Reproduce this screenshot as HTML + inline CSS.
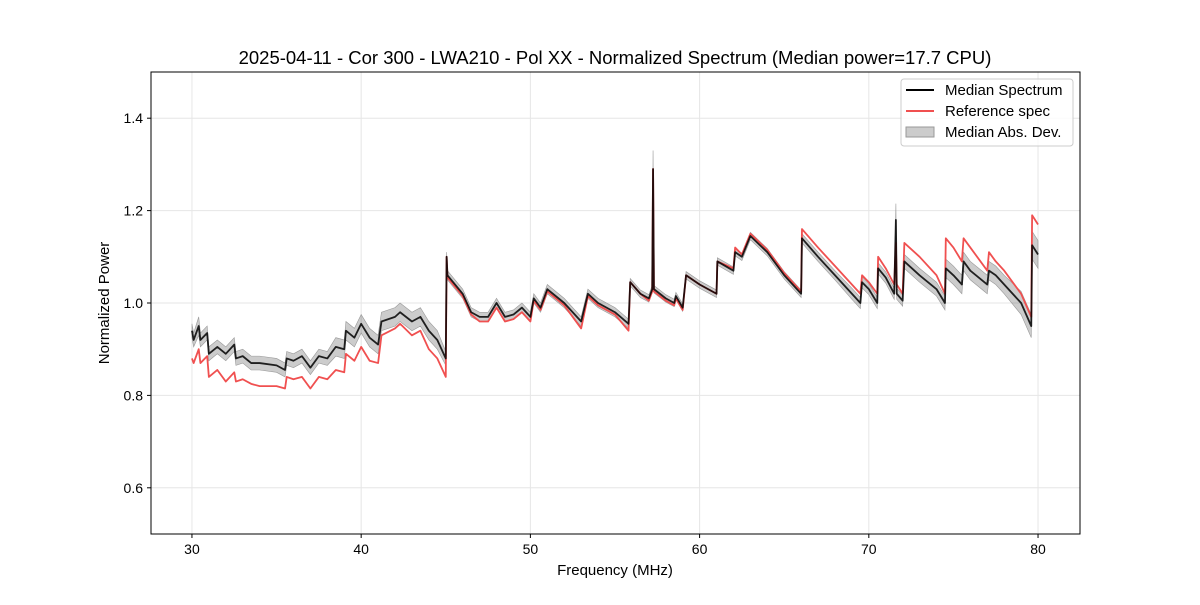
<!DOCTYPE html>
<html><head><meta charset="utf-8"><style>
body{margin:0;background:#fff;font-family:"Liberation Sans",sans-serif}
</style></head><body>
<svg id="chart" width="1200" height="600" xmlns="http://www.w3.org/2000/svg" font-family="Liberation Sans, sans-serif">
<rect width="1200" height="600" fill="#fff"/>
<text x="615" y="64" text-anchor="middle" font-size="18.5">2025-04-11 - Cor 300 - LWA210 - Pol XX - Normalized Spectrum (Median power=17.7 CPU)</text>
<g id="grid"></g><g id="marks"></g><g id="axes"></g>
<rect x="151" y="72" width="929" height="462" fill="none" stroke="#000" stroke-width="1"/>
<text x="615" y="575" text-anchor="middle" font-size="15">Frequency (MHz)</text>
<text transform="translate(109,303) rotate(-90)" text-anchor="middle" font-size="15">Normalized Power</text>
<g>
<rect x="901" y="79" width="172" height="67" rx="3" fill="#fff" fill-opacity="0.8" stroke="#ccc"/>
<line x1="906" y1="90" x2="934" y2="90" stroke="#000" stroke-width="2"/>
<text x="945" y="95" font-size="15">Median Spectrum</text>
<line x1="906" y1="111" x2="934" y2="111" stroke="#f05050" stroke-width="2"/>
<text x="945" y="116" font-size="15">Reference spec</text>
<rect x="906" y="127" width="28" height="10" fill="#000" fill-opacity="0.2" stroke="#999"/>
<text x="945" y="137" font-size="15">Median Abs. Dev.</text>
</g>
</svg>
<script>
const freqs=[30.0,30.1,30.4,30.5,30.9,31.0,31.5,32.0,32.5,32.6,33.0,33.5,34.0,35.0,35.5,35.6,36.0,36.5,37.0,37.5,38.0,38.5,39.0,39.1,39.6,40.0,40.5,41.0,41.2,42.0,42.3,43.0,43.5,44.0,44.5,45.0,45.05,45.1,46.0,46.5,47.0,47.5,48.0,48.5,49.0,49.5,50.0,50.2,50.6,51.0,52.0,53.0,53.4,54.0,55.0,55.8,55.9,56.5,57.0,57.2,57.25,57.3,58.0,58.5,58.6,59.0,59.2,60.0,60.5,61.0,61.05,62.0,62.1,62.5,63.0,64.0,65.0,66.0,66.05,67.0,68.0,69.0,69.5,69.6,70.0,70.5,70.55,71.0,71.5,71.6,71.65,72.0,72.1,73.0,74.0,74.5,74.55,75.0,75.5,75.6,76.0,77.0,77.1,77.5,78.0,79.0,79.6,79.65,80.0];
const median=[0.94,0.92,0.95,0.92,0.935,0.89,0.905,0.89,0.91,0.88,0.885,0.87,0.87,0.865,0.855,0.88,0.875,0.885,0.86,0.885,0.88,0.905,0.90,0.94,0.925,0.955,0.925,0.91,0.96,0.97,0.98,0.96,0.97,0.94,0.92,0.88,1.10,1.06,1.02,0.98,0.97,0.97,1.00,0.97,0.975,0.99,0.97,1.01,0.99,1.03,1.00,0.96,1.02,1.00,0.98,0.955,1.045,1.02,1.01,1.03,1.29,1.03,1.01,1.00,1.015,0.99,1.06,1.04,1.03,1.02,1.09,1.07,1.11,1.10,1.145,1.11,1.06,1.02,1.14,1.10,1.06,1.02,1.00,1.045,1.03,1.00,1.075,1.055,1.02,1.18,1.02,1.005,1.09,1.06,1.03,1.00,1.075,1.06,1.04,1.09,1.07,1.04,1.07,1.06,1.04,1.00,0.95,1.125,1.105];
const reference=[0.88,0.87,0.90,0.87,0.885,0.84,0.855,0.83,0.85,0.83,0.835,0.825,0.82,0.82,0.815,0.84,0.835,0.84,0.815,0.84,0.835,0.855,0.85,0.89,0.875,0.905,0.875,0.87,0.93,0.945,0.955,0.93,0.94,0.90,0.88,0.84,1.10,1.055,1.015,0.975,0.96,0.96,0.99,0.96,0.965,0.98,0.96,1.005,0.985,1.025,0.995,0.945,1.015,0.995,0.975,0.94,1.045,1.02,1.005,1.025,1.29,1.025,1.005,0.995,1.01,0.985,1.06,1.04,1.03,1.02,1.09,1.075,1.12,1.105,1.15,1.115,1.065,1.025,1.16,1.12,1.08,1.04,1.02,1.06,1.045,1.02,1.10,1.075,1.04,1.13,1.04,1.02,1.13,1.10,1.06,1.02,1.14,1.12,1.09,1.14,1.12,1.07,1.11,1.09,1.07,1.02,0.97,1.19,1.17];
const mad=[0.015,0.015,0.02,0.015,0.015,0.015,0.015,0.015,0.015,0.015,0.015,0.015,0.015,0.015,0.015,0.015,0.015,0.015,0.015,0.015,0.015,0.02,0.02,0.02,0.02,0.02,0.02,0.02,0.02,0.02,0.02,0.02,0.02,0.02,0.02,0.015,0.01,0.01,0.01,0.01,0.01,0.01,0.01,0.01,0.01,0.01,0.01,0.01,0.01,0.01,0.01,0.01,0.01,0.01,0.01,0.01,0.008,0.008,0.008,0.008,0.04,0.008,0.008,0.008,0.008,0.008,0.008,0.008,0.008,0.008,0.008,0.008,0.008,0.008,0.008,0.008,0.008,0.008,0.01,0.01,0.01,0.012,0.012,0.012,0.012,0.012,0.012,0.012,0.012,0.035,0.012,0.012,0.015,0.015,0.015,0.015,0.02,0.02,0.02,0.02,0.02,0.02,0.02,0.02,0.02,0.025,0.025,0.03,0.03];
const xTicks=[30,40,50,60,70,80];
const yTicks=[0.6,0.8,1.0,1.2,1.4];

const NS='http://www.w3.org/2000/svg';
const X0=151,X1=1080,Y0=534,Y1=72,XMIN=27.58,XMAX=82.48,YMIN=0.5,YMAX=1.5;
function xs(v){return X0+(v-XMIN)/(XMAX-XMIN)*(X1-X0);}
function ys(v){return Y0-(v-YMIN)/(YMAX-YMIN)*(Y0-Y1);}
function mk(tag,attrs,parent){const e=document.createElementNS(NS,tag);for(const k in attrs)e.setAttribute(k,attrs[k]);parent.appendChild(e);return e;}
const grid=document.getElementById('grid'),marks=document.getElementById('marks'),axes=document.getElementById('axes');
xTicks.forEach(t=>{
  const g=mk('line',{x1:xs(t),x2:xs(t),y1:Y1,y2:Y0,stroke:'#e6e6e6'},grid);
  
  
  const tk=mk('line',{x1:xs(t),x2:xs(t),y1:Y0,y2:Y0+4,stroke:'#000'},axes);
  
  
  const tx=mk('text',{x:xs(t),y:Y0+20,'text-anchor':'middle','font-size':14},axes);
  tx.textContent=t;
  
  
});
yTicks.forEach(t=>{
  const g=mk('line',{x1:X0,x2:X1,y1:ys(t),y2:ys(t),stroke:'#e6e6e6'},grid);
  
  
  const tk=mk('line',{x1:X0-4,x2:X0,y1:ys(t),y2:ys(t),stroke:'#000'},axes);
  
  
  const tx=mk('text',{x:X0-8,y:ys(t)+5,'text-anchor':'end','font-size':14},axes);
  tx.textContent=t.toFixed(1);
  
  
});
let up=freqs.map((f,i)=>xs(f)+','+ys(median[i]+mad[i]));
let dn=freqs.map((f,i)=>xs(f)+','+ys(median[i]-mad[i])).reverse();
const band=mk('polygon',{points:up.concat(dn).join(' '),fill:'#000','fill-opacity':0.2,stroke:'#999','stroke-width':0.6},marks);


const refL=mk('polyline',{points:freqs.map((f,i)=>xs(f)+','+ys(reference[i])).join(' '),fill:'none',stroke:'#f05050','stroke-width':1.8,'stroke-linejoin':'round'},marks);


const medL=mk('polyline',{points:freqs.map((f,i)=>xs(f)+','+ys(median[i])).join(' '),fill:'none',stroke:'#000','stroke-width':1.8,'stroke-linejoin':'round','stroke-opacity':0.85},marks);


</script>
</body></html>
